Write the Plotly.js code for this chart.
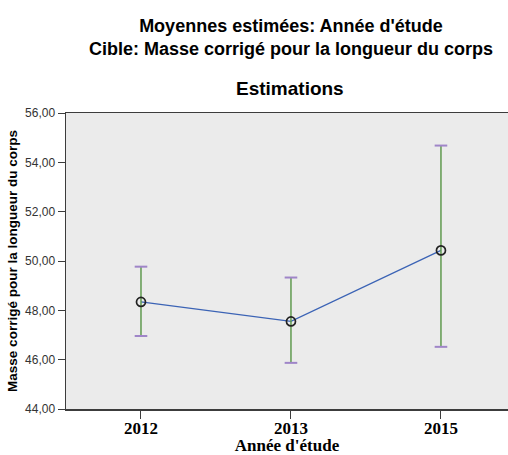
<!DOCTYPE html>
<html>
<head>
<meta charset="utf-8">
<script src="https://cdn.plot.ly/plotly-3.0.1.min.js"></script>
<style>html,body{margin:0;padding:0;background:#fff;}#chart{width:508px;height:455px;}</style>
</head>
<body>
<div id="chart"></div>
<script>
var years = ['2012', '2013', '2015'];
var means = [48.34, 47.55, 50.43];
var upper = [49.77, 49.33, 54.68];
var lower = [46.96, 45.87, 46.52];

var errPlus = means.map(function (m, i) { return upper[i] - m; });
var errMinus = means.map(function (m, i) { return m - lower[i]; });

var traces = [
  {
    x: years, y: means, type: 'scatter', mode: 'lines',
    line: {color: '#3b63b5', width: 1.3},
    hoverinfo: 'skip', showlegend: false
  },
  {
    x: years, y: means, type: 'scatter', mode: 'markers',
    marker: {size: 1, color: 'rgba(0,0,0,0)'},
    error_y: {type: 'data', symmetric: false, array: errPlus, arrayminus: errMinus,
      color: '#5f9a4f', thickness: 1.5, width: 0},
    showlegend: false
  },
  {
    x: years.concat(years), y: upper.concat(lower), type: 'scatter', mode: 'markers',
    marker: {symbol: 'line-ew', size: 9, line: {color: '#9f85c8', width: 2}},
    showlegend: false
  },
  {
    x: years, y: means, type: 'scatter', mode: 'markers',
    marker: {symbol: 'circle-open', size: 9, color: '#222', line: {width: 1.7, color: '#222'}},
    showlegend: false
  }
];

var layout = {
  width: 508, height: 455,
  margin: {l: 66, r: 0, t: 113, b: 46},
  paper_bgcolor: '#ffffff',
  plot_bgcolor: '#ebebeb',
  separators: ', ',
  title: {
    text: "<b>Moyennes estimées: Année d'étude</b><br><b>Cible: Masse corrigé pour la longueur du corps</b>",
    font: {family: 'Liberation Sans, Arial, sans-serif', size: 18, color: '#000'},
    xref: 'paper', x: 0.509, xanchor: 'center',
    yref: 'container', y: 1 - 32 / 455, yanchor: 'middle'
  },
  annotations: [{
    text: '<b>Estimations</b>', showarrow: false,
    xref: 'paper', x: 0.507, xanchor: 'center',
    yref: 'paper', y: (409 - 88) / 296, yanchor: 'middle',
    font: {family: 'Liberation Sans, Arial, sans-serif', size: 19, color: '#000'}
  }],
  xaxis: {
    type: 'category',
    range: [-0.5, 2.447],
    showline: true, linecolor: '#3c3c3c', linewidth: 1.5, mirror: true,
    ticks: 'outside', ticklen: 8, tickcolor: '#3c3c3c', tickwidth: 1,
    ticklabelstandoff: -5,
    showgrid: false, zeroline: false,
    tickfont: {family: 'Liberation Serif, Times New Roman, serif', size: 17, color: '#000', weight: 'bold'},
    title: {text: "<b>Année d'étude</b>", standoff: 0,
      font: {family: 'Liberation Serif, Times New Roman, serif', size: 17, color: '#000'}}
  },
  yaxis: {
    range: [44, 56], tickvals: [44, 46, 48, 50, 52, 54, 56], tickformat: '.2f',
    showline: true, linecolor: '#3c3c3c', linewidth: 1.5, mirror: false,
    ticks: 'outside', ticklen: 7, tickcolor: '#3c3c3c', tickwidth: 1,
    showgrid: false, zeroline: false,
    tickfont: {family: 'Liberation Sans, Arial, sans-serif', size: 12, color: '#333'},
    title: {text: '<b>Masse corrigé pour la longueur du corps</b>', standoff: 4,
      font: {family: 'Liberation Sans, Arial, sans-serif', size: 13.5, color: '#000'}}
  }
};

Plotly.newPlot('chart', traces, layout, {displayModeBar: false, staticPlot: true});
</script>
</body>
</html>
